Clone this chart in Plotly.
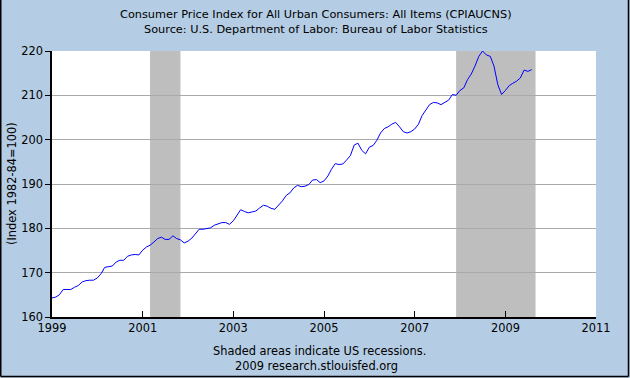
import plotly.graph_objects as go

# Monthly CPIAUCNS values, Jan 1999 .. Aug 2009
cpi_1999 = [164.3, 164.5, 165.0, 166.2, 166.2, 166.2, 166.7, 167.1, 167.9, 168.2, 168.3, 168.3]
cpi_2000 = [168.8, 169.8, 171.2, 171.3, 171.5, 172.4, 172.8, 172.8, 173.7, 174.0, 174.1, 174.0]
cpi_2001 = [175.1, 175.8, 176.2, 176.9, 177.7, 178.0, 177.5, 177.5, 178.3, 177.7, 177.4, 176.7]
cpi_2002 = [177.1, 177.8, 178.8, 179.8, 179.8, 179.9, 180.1, 180.7, 181.0, 181.3, 181.3, 180.9]
cpi_2003 = [181.7, 183.1, 184.2, 183.8, 183.5, 183.7, 183.9, 184.6, 185.2, 185.0, 184.5, 184.3]
cpi_2004 = [185.2, 186.2, 187.4, 188.0, 189.1, 189.7, 189.4, 189.5, 189.9, 190.9, 191.0, 190.3]
cpi_2005 = [190.7, 191.8, 193.3, 194.6, 194.4, 194.5, 195.4, 196.4, 198.8, 199.2, 197.6, 196.8]
cpi_2006 = [198.3, 198.7, 199.8, 201.5, 202.5, 202.9, 203.5, 203.9, 202.9, 201.8, 201.5, 201.8]
cpi_2007 = [202.4, 203.5, 205.4, 206.7, 207.9, 208.4, 208.3, 207.9, 208.5, 208.9, 210.2, 210.0]
cpi_2008 = [211.1, 211.7, 213.5, 214.8, 216.6, 218.8, 220.0, 219.1, 218.8, 216.6, 212.4, 210.2]
cpi_2009 = [211.1, 212.2, 212.7, 213.2, 213.9, 215.7, 215.4, 215.8]

years = [1999, 2000, 2001, 2002, 2003, 2004, 2005, 2006, 2007, 2008, 2009]
series_by_year = [cpi_1999, cpi_2000, cpi_2001, cpi_2002, cpi_2003, cpi_2004,
                  cpi_2005, cpi_2006, cpi_2007, cpi_2008, cpi_2009]

recession_starts = ["2001-03-01", "2007-12-01"]
recession_ends = ["2001-11-01", "2009-09-01"]

x_tick_vals = ["1999-01-01", "2001-01-01", "2003-01-01", "2005-01-01",
               "2007-01-01", "2009-01-01", "2011-01-01"]
x_tick_text = ["1999", "2001", "2003", "2005", "2007", "2009", "2011"]
y_tick_vals = [160, 170, 180, 190, 200, 210, 220]

title_line1 = "Consumer Price Index for All Urban Consumers: All Items (CPIAUCNS)"
title_line2 = "Source: U.S. Department of Labor: Bureau of Labor Statistics"
y_title = "(Index 1982-84=100)"
foot1 = "Shaded areas indicate US recessions."
foot2 = "2009 research.stlouisfed.org"

dates, values = [], []
for yr, vals in zip(years, series_by_year):
    for m, v in enumerate(vals):
        dates.append(f"{yr}-{m+1:02d}-01")
        values.append(v)

W, H = 630, 378
L, R, T, B = 52, 34, 51, 61
PW, PH = W - L - R, H - T - B

def px_x(p):
    return (p - L) / PW

def px_y(p):
    return (H - B - p) / PH

BG = "#B4CDE4"
FONT = "DejaVu Sans"

fig = go.Figure()
fig.add_trace(go.Scatter(x=dates, y=values, mode="lines",
                         line=dict(color="#0000FF", width=1), hoverinfo="skip"))

shapes = []
for s, e in zip(recession_starts, recession_ends):
    shapes.append(dict(type="rect", xref="x", yref="paper", x0=s, x1=e, y0=0, y1=1,
                       fillcolor="#BEBEBE", line=dict(width=0), layer="below"))
# outer border: left, right, bottom
for (x0, y0, x1, y1) in [(0.75, 0, 0.75, 376.5), (628.5, 0, 628.5, 376.5), (0.75, 376.5, 628.5, 376.5)]:
    shapes.append(dict(type="line", xref="paper", yref="paper",
                       x0=px_x(x0), x1=px_x(x1), y0=px_y(y0), y1=px_y(y1),
                       line=dict(color="#000000", width=1.5)))

annotations = [
    dict(text=title_line1, x=px_x(316), y=px_y(15), xref="paper", yref="paper",
         showarrow=False, xanchor="center", yanchor="middle", font=dict(size=11.3, color="#000")),
    dict(text=title_line2, x=px_x(316), y=px_y(30), xref="paper", yref="paper",
         showarrow=False, xanchor="center", yanchor="middle", font=dict(size=11.3, color="#000")),
    dict(text=foot1, x=px_x(319), y=px_y(351), xref="paper", yref="paper",
         showarrow=False, xanchor="center", yanchor="middle", font=dict(size=11.4, color="#000")),
    dict(text=foot2, x=px_x(316), y=px_y(366), xref="paper", yref="paper",
         showarrow=False, xanchor="center", yanchor="middle", font=dict(size=11.4, color="#000")),
    dict(text=y_title, x=px_x(12), y=px_y(184), xref="paper", yref="paper", textangle=-90,
         showarrow=False, xanchor="center", yanchor="middle", font=dict(size=11.4, color="#000")),
]

fig.update_layout(
    width=W, height=H,
    margin=dict(l=L, r=R, t=T, b=B, pad=0),
    paper_bgcolor=BG, plot_bgcolor="#FFFFFF",
    font=dict(family=FONT, size=11, color="#000000"),
    showlegend=False,
    shapes=shapes,
    annotations=annotations,
    xaxis=dict(type="date", range=["1999-01-01", "2011-01-01"],
               tickvals=x_tick_vals, ticktext=x_tick_text,
               ticks="inside", ticklen=6, tickcolor="#000", tickwidth=1,
               showgrid=False, zeroline=False,
               showline=True, linecolor="#000", linewidth=1.5,
               tickfont=dict(size=11.4), fixedrange=True),
    yaxis=dict(range=[160, 220], tickvals=y_tick_vals,
               ticks="outside", ticklen=5, tickcolor="#000", tickwidth=1,
               showgrid=True, gridcolor="#AAAAAA", gridwidth=1,
               zeroline=False, showline=True, linecolor="#000", linewidth=1.5,
               tickfont=dict(size=11.4), fixedrange=True),
)

fig.write_html("out.html", config={"displayModeBar": False},
               post_script="document.body.style.margin='0';document.body.style.padding='0';")
